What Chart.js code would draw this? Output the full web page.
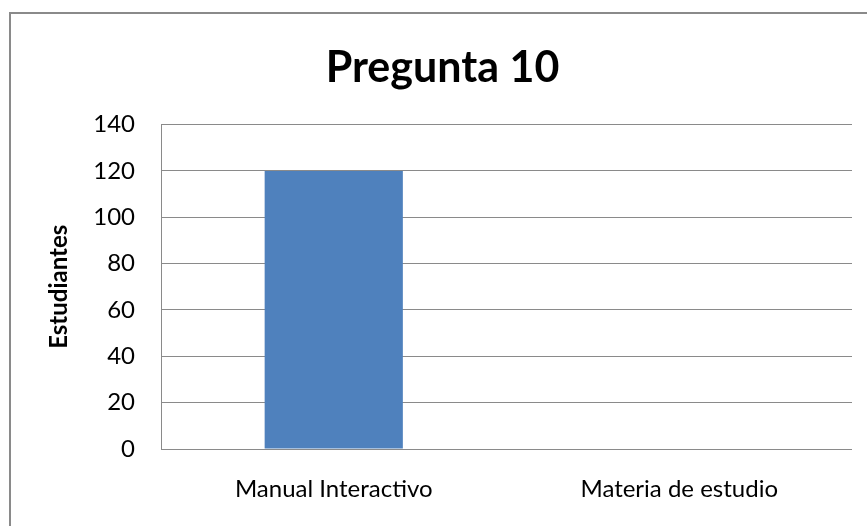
<!DOCTYPE html>
<html>
<head>
<meta charset="utf-8">
<script src="https://cdn.jsdelivr.net/npm/chart.js@4"></script>
<style>
  html, body { margin: 0; padding: 0; background: #fff; overflow: hidden; }
  #wrap { width: 867px; height: 526px; }
</style>
</head>
<body>
<div id="wrap"><canvas id="chart" width="867" height="526"></canvas></div>
<script>
// datos del gráfico
const categorias = ['Manual Interactivo', 'Materia de estudio'];
const estudiantes = [120, 0];
const titulo = 'Pregunta 10';
const tituloEje = 'Estudiantes';
const yMin = 0, yMax = 140, yPaso = 20;

const FONT = 'Lato, "Noto Sans", sans-serif';
const GRIS = '#8a8a8a';

// marco exterior (solo se ven los bordes izq. y sup.)
const marco = {
  id: 'marco',
  beforeDraw(chart) {
    const ctx = chart.ctx;
    ctx.save();
    ctx.strokeStyle = GRIS;
    ctx.lineWidth = 2;
    ctx.strokeRect(10, 13, 1000, 1000);
    ctx.restore();
  }
};

new Chart(document.getElementById('chart'), {
  type: 'bar',
  data: {
    labels: categorias,
    datasets: [{
      data: estudiantes,
      backgroundColor: '#4F81BD',
      barPercentage: 0.4,
      categoryPercentage: 1
    }]
  },
  options: {
    responsive: false,
    animation: false,
    layout: { padding: { left: 33, top: 42, right: 15, bottom: 0 } },
    plugins: {
      legend: { display: false },
      tooltip: { enabled: false },
      title: {
        display: true,
        text: titulo,
        color: '#000',
        font: { family: FONT, size: 43, weight: 'bold' },
        padding: { top: 0, bottom: 31 }
      }
    },
    scales: {
      x: {
        grid: { display: false, drawTicks: false },
        border: { display: false },
        ticks: { color: '#000', font: { family: FONT, size: 24 }, padding: 26 },
        afterFit(s) { s.height = 526 - 449; }
      },
      y: {
        min: yMin, max: yMax,
        ticks: { stepSize: yPaso, color: '#000', font: { family: FONT, size: 24 }, padding: 26 },
        grid: { color: GRIS, lineWidth: 1, drawTicks: false },
        border: { display: true, color: GRIS, width: 1 },
        title: {
          display: true,
          text: tituloEje,
          color: '#000',
          font: { family: FONT, size: 24, weight: 'bold' },
          padding: { top: 12, bottom: 0 }
        },
        afterFit(s) { s.width = 161 - 33; }
      }
    }
  },
  plugins: [marco]
});
</script>
</body>
</html>
